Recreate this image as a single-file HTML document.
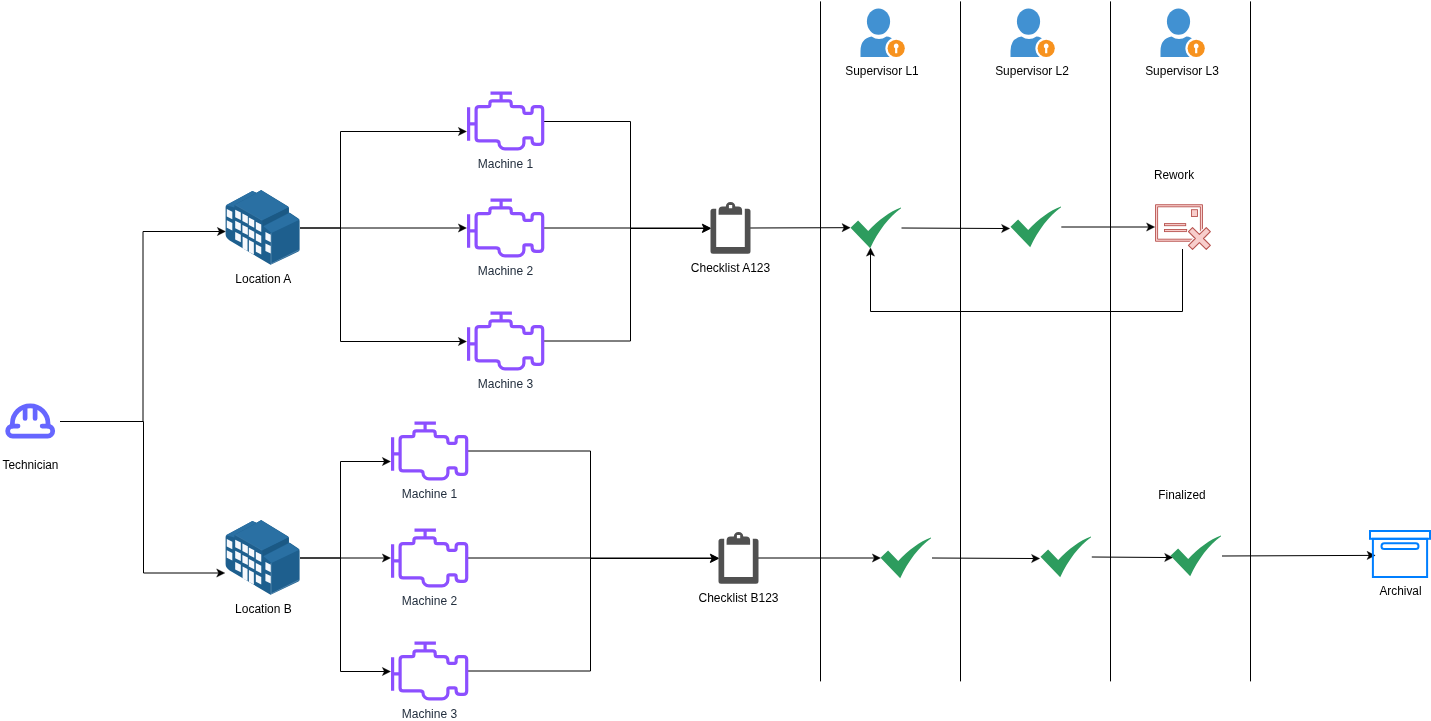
<!DOCTYPE html>
<html>
<head>
<meta charset="utf-8">
<title>Checklist workflow</title>
<style>
html,body{margin:0;padding:0;background:#fff;}
body{width:1431px;height:721px;overflow:hidden;}
svg{display:block;will-change:transform;}
svg text{font-family:"Liberation Sans",Helvetica,Arial,sans-serif;font-size:12px;}
</style>
</head>
<body>
<svg width="1431" height="721" viewBox="0 0 1431 721">
<rect width="1431" height="721" fill="#fff"/>
<defs>
<g id="hat" fill="none" stroke="#6666ff" stroke-width="4.800" stroke-linecap="round" stroke-linejoin="round">
<path d="M 18 426.100 H 12.700 a 5 5 0 0 0 0 10 H 47.700 a 5 5 0 0 0 0 -10 H 42.200"/>
<path d="M 12.400 426 V 423.500 A 17.800 17.700 0 0 1 48 423.500 V 426"/>
<path d="M 25.100 408 V 418.500 M 35.100 408 V 418.500" stroke-width="4.700"/>
</g>
<g id="engine" fill="none" stroke="#8c4fff" stroke-width="3.200" stroke-linejoin="round">
<path d="M 2.100 16.300 V 49.800 M 2 32.800 H 9.600" stroke-linejoin="miter"/>
<path d="M 24 2.100 H 45.400 M 34.600 2 V 9.900"/>
<path d="M 12.600 15.700 H 21.400 Q 23.400 15.700 23.400 13.700 V 12.400 Q 23.400 9.900 25.900 9.900 H 42.200 Q 44.700 9.900 44.700 12.400 V 13.700 Q 44.700 15.700 46.700 15.700 H 53.400 Q 57.400 15.700 57.400 19.700 V 20.800 Q 57.400 22.300 58.900 22.300 H 64.100 Q 65.600 22.300 65.600 20.800 V 18.700 Q 65.600 15.700 68.600 15.700 H 73.200 Q 76.200 15.700 76.200 18.700 V 49.900 Q 76.200 53.400 72.700 53.400 H 69.600 Q 65.600 53.400 65.600 49.400 V 48.300 Q 65.600 46.800 64.100 46.800 H 58.900 Q 57.400 46.800 57.400 48.300 V 51.900 A 6 6 0 0 1 51.400 57.900 H 38.500 A 6 6 0 0 1 32.500 51.900 Q 32.500 49.900 29.500 49.900 H 12.600 Q 9.600 49.900 9.600 46.900 V 18.700 Q 9.600 15.700 12.600 15.700 Z"/>
</g>
<g id="bldg"><g transform="scale(0.988 1)">
<path d="M 0.3 17 Q 0.3 15.6 1.5 15 L 27.4 0.9 L 31.5 2.7 L 36.3 0 L 63.3 16.2 Q 64.3 16.8 64.3 18 V 22.4 L 65.7 23 L 74 28.6 Q 75.2 29.6 75.2 31 V 59.5 Q 75.2 61 74 61.6 L 45.8 74.8 L 4.4 50.4 Q 0.3 48 0.3 44 Z" fill="#1e5f8e"/>
<path d="M 9.7 14.8 L 36.3 0.3 L 64.3 17.2 L 37.4 30.4 Z" fill="#2a70a3"/>
<path d="M 0.5 15.3 L 27.4 0.9 L 31.5 3 L 9.5 14.8 L 9.1 17.5 Z" fill="#2a70a3"/>
<path d="M 37.4 30.6 L 64.3 17.4 L 64.3 22.6 L 38.2 35.9 Z" fill="#1b5985"/>
<path d="M 38.6 36.3 L 64.6 23 L 75 29.8 L 46.8 42.9 Z" fill="#2a70a3"/>
<path d="M 46.3 43 V 73.800 L 74.500 60" stroke="#7fa8c8" stroke-width="0.500" fill="none"/>
<path d="M 9.7 14.8 L 37.4 30.4" stroke="#5b8fb5" stroke-width="0.3" fill="none"/>
<g fill="#f6f8fc">
<path d="M 1.50 18.90 L 7.10 21.64 L 7.10 29.14 L 1.50 26.40 Z"/>
<path d="M 1.50 30.20 L 7.10 32.94 L 7.10 40.44 L 1.50 37.70 Z"/>
<path d="M 10.00 19.80 L 15.70 22.59 L 15.70 30.09 L 10.00 27.30 Z"/>
<path d="M 10.00 30.80 L 15.70 33.59 L 15.70 41.09 L 10.00 38.30 Z"/>
<path d="M 10.00 42.00 L 15.70 44.79 L 15.70 52.29 L 10.00 49.50 Z"/>
<path d="M 17.30 23.60 L 22.80 26.30 L 22.80 33.80 L 17.30 31.10 Z"/>
<path d="M 17.30 34.90 L 22.80 37.59 L 22.80 45.09 L 17.30 42.40 Z"/>
<path d="M 23.80 27.50 L 29.30 30.20 L 29.30 37.70 L 23.80 35.00 Z"/>
<path d="M 23.80 39.00 L 29.30 41.70 L 29.30 49.20 L 23.80 46.50 Z"/>
<path d="M 30.90 31.80 L 36.40 34.49 L 36.40 41.99 L 30.90 39.30 Z"/>
<path d="M 30.90 43.10 L 36.40 45.80 L 36.40 53.30 L 30.90 50.60 Z"/>
<path d="M 30.90 54.30 L 36.40 56.99 L 36.40 64.50 L 30.90 61.80 Z"/>
<path d="M 40.60 42.00 L 46.00 44.65 L 46.00 52.15 L 40.60 49.50 Z"/>
<path d="M 40.60 53.40 L 46.00 56.05 L 46.00 63.55 L 40.60 60.90 Z"/>
<path d="M 17.50 46.60 L 22.50 49.05 L 22.50 61.05 L 17.50 58.60 Z"/>
<path d="M 23.90 50.10 L 28.90 52.55 L 28.90 64.55 L 23.90 62.10 Z"/>
</g>
</g>
</g>
<g id="clip" fill="#505050">
<path d="M 2.500 6.700 H 5.700 V 45.100 H 34.300 V 6.700 H 37.500 Q 40 6.700 40 9.200 V 49.200 Q 40 51.700 37.500 51.700 H 2.500 Q 0 51.700 0 49.200 V 9.200 Q 0 6.700 2.500 6.700 Z"/>
<path fill-rule="evenodd" d="M 8.100 12.800 V 8.500 Q 8.100 4.500 12.100 4.500 H 15.300 Q 15.800 0 20.050 0 Q 24.300 0 24.800 4.500 H 27.600 Q 31.600 4.500 31.600 8.500 V 12.800 Z M 18.400 3.100 H 21.700 V 6.300 H 18.400 Z"/>
</g>
<g id="sup">
<ellipse cx="18" cy="13.600" rx="11.600" ry="13.200" fill="#4191d2"/>
<path d="M 0 49 V 43 Q 0 30.500 11 28.500 Q 18.500 33.500 26 28.500 Q 31 29 31.500 31 V 49 Z" fill="#4191d2"/>
<circle cx="35.700" cy="40.300" r="10.800" fill="#fff"/>
<circle cx="35.700" cy="40.300" r="8.600" fill="#f7921e"/>
<path d="M 35.700 35.500 a 2.500 2.500 0 0 1 1.100 4.700 V 45.300 H 34.600 V 40.200 a 2.500 2.500 0 0 1 1.100 -4.700 Z" fill="#fff"/>
</g>
<g id="chk">
<path d="M 0 20.300 L 7.600 13 L 17.700 23.500 C 28 12.500 39.500 4 50.400 0 L 50.600 0.700 C 38.500 9.500 27.500 23.500 19.700 40.800 Z" fill="#2d9c5e"/>
</g>
<g id="rework" stroke="#b85450" stroke-width="0.900" fill="#f8cecc">
<path fill-rule="evenodd" d="M 0.500 0.700 H 47.500 V 37.300 H 0.500 Z M 2.600 2.800 V 35.200 H 45.400 V 2.800 Z"/>
<rect x="36.500" y="5.700" width="6" height="6.800"/>
<rect x="9.500" y="19.600" width="21.200" height="2.100"/>
<rect x="9.500" y="25.500" width="22.200" height="2.100"/>
<path d="M 51.26 23.54 L 55.36 27.64 L 48.50 34.50 L 55.36 41.36 L 51.26 45.46 L 44.40 38.60 L 37.54 45.46 L 33.44 41.36 L 40.30 34.50 L 33.44 27.64 L 37.54 23.54 L 44.40 30.40 Z" stroke="#fff" stroke-width="3.200" stroke-linejoin="round"/>
<path d="M 51.26 23.54 L 55.36 27.64 L 48.50 34.50 L 55.36 41.36 L 51.26 45.46 L 44.40 38.60 L 37.54 45.46 L 33.44 41.36 L 40.30 34.50 L 33.44 27.64 L 37.54 23.54 L 44.40 30.40 Z" stroke-linejoin="round" stroke-width="1.100"/>
</g>
<g id="arch" fill="none" stroke="#007fff" stroke-width="2">
<rect x="1" y="1" width="60" height="7.800"/>
<rect x="3.900" y="8.800" width="54.200" height="38.200"/>
<rect x="12.500" y="13.300" width="37" height="5.700" rx="2.850"/>
</g>
</defs>

<path d="M 820.5 1.4 L 820.5 681.4" fill="none" stroke="#000"/>
<path d="M 960.5 1.4 L 960.5 681.4" fill="none" stroke="#000"/>
<path d="M 1110.5 1.4 L 1110.5 681.4" fill="none" stroke="#000"/>
<path d="M 1250.5 1.4 L 1250.5 681.4" fill="none" stroke="#000"/>
<path d="M 60 421.5 L 143 421.5 L 143 231.5 L 219.6 231.5" fill="none" stroke="#000" stroke-miterlimit="10"/><path d="M 225.45 231.50 L 217.35 235.60 L 219.35 231.50 L 217.35 227.40 Z" fill="#000" stroke="#000" stroke-width="0.4" stroke-miterlimit="10"/>
<path d="M 60 421.5 L 143.5 421.5 L 143.5 573 L 218.9 573" fill="none" stroke="#000" stroke-miterlimit="10"/><path d="M 224.75 573.00 L 216.65 577.10 L 218.65 573.00 L 216.65 568.90 Z" fill="#000" stroke="#000" stroke-width="0.4" stroke-miterlimit="10"/>
<path d="M 300 228 L 340.5 228 L 340.5 131.5 L 460.6 131.5" fill="none" stroke="#000" stroke-miterlimit="10"/><path d="M 466.45 131.50 L 458.35 135.60 L 460.35 131.50 L 458.35 127.40 Z" fill="#000" stroke="#000" stroke-width="0.4" stroke-miterlimit="10"/>
<path d="M 300 228 L 460.6 228" fill="none" stroke="#000" stroke-miterlimit="10"/><path d="M 466.45 228.00 L 458.35 232.10 L 460.35 228.00 L 458.35 223.90 Z" fill="#000" stroke="#000" stroke-width="0.4" stroke-miterlimit="10"/>
<path d="M 340.5 228 L 340.5 341.5 L 460.6 341.5" fill="none" stroke="#000" stroke-miterlimit="10"/><path d="M 466.45 341.50 L 458.35 345.60 L 460.35 341.50 L 458.35 337.40 Z" fill="#000" stroke="#000" stroke-width="0.4" stroke-miterlimit="10"/>
<path d="M 544 121.5 L 630.5 121.5 L 630.5 228.5 L 704.6 228.5" fill="none" stroke="#000" stroke-miterlimit="10"/><path d="M 710.45 228.50 L 702.35 232.60 L 704.35 228.50 L 702.35 224.40 Z" fill="#000" stroke="#000" stroke-width="0.4" stroke-miterlimit="10"/>
<path d="M 544 228 L 704.6 228" fill="none" stroke="#000" stroke-miterlimit="10"/><path d="M 710.45 228.00 L 702.35 232.10 L 704.35 228.00 L 702.35 223.90 Z" fill="#000" stroke="#000" stroke-width="0.4" stroke-miterlimit="10"/>
<path d="M 544 341 L 630.5 341 L 630.5 228.5 L 704.6 228.5" fill="none" stroke="#000" stroke-miterlimit="10"/><path d="M 710.45 228.50 L 702.35 232.60 L 704.35 228.50 L 702.35 224.40 Z" fill="#000" stroke="#000" stroke-width="0.4" stroke-miterlimit="10"/>
<path d="M 750 228 L 844.3 227.7" fill="none" stroke="#000" stroke-miterlimit="10"/><path d="M 850.15 227.70 L 842.05 231.80 L 844.05 227.70 L 842.05 223.60 Z" fill="#000" stroke="#000" stroke-width="0.4" stroke-miterlimit="10"/>
<path d="M 901.5 228 L 1003.8 228.5" fill="none" stroke="#000" stroke-miterlimit="10"/><path d="M 1009.65 228.50 L 1001.55 232.60 L 1003.55 228.50 L 1001.55 224.40 Z" fill="#000" stroke="#000" stroke-width="0.4" stroke-miterlimit="10"/>
<path d="M 1061.3 227 L 1148.8 227" fill="none" stroke="#000" stroke-miterlimit="10"/><path d="M 1154.65 227.00 L 1146.55 231.10 L 1148.55 227.00 L 1146.55 222.90 Z" fill="#000" stroke="#000" stroke-width="0.4" stroke-miterlimit="10"/>
<path d="M 1182.5 249 L 1182.5 311.5 L 870.5 311.5 L 870.5 253.9" fill="none" stroke="#000" stroke-miterlimit="10"/><path d="M 870.50 248.05 L 874.60 256.15 L 870.50 254.15 L 866.40 256.15 Z" fill="#000" stroke="#000" stroke-width="0.4" stroke-miterlimit="10"/>
<path d="M 300 558 L 340.5 558 L 340.5 461.5 L 384.6 461.5" fill="none" stroke="#000" stroke-miterlimit="10"/><path d="M 390.45 461.50 L 382.35 465.60 L 384.35 461.50 L 382.35 457.40 Z" fill="#000" stroke="#000" stroke-width="0.4" stroke-miterlimit="10"/>
<path d="M 300 558 L 384.6 558" fill="none" stroke="#000" stroke-miterlimit="10"/><path d="M 390.45 558.00 L 382.35 562.10 L 384.35 558.00 L 382.35 553.90 Z" fill="#000" stroke="#000" stroke-width="0.4" stroke-miterlimit="10"/>
<path d="M 340.5 558 L 340.5 671.5 L 384.6 671.5" fill="none" stroke="#000" stroke-miterlimit="10"/><path d="M 390.45 671.50 L 382.35 675.60 L 384.35 671.50 L 382.35 667.40 Z" fill="#000" stroke="#000" stroke-width="0.4" stroke-miterlimit="10"/>
<path d="M 468 451 L 590.5 451 L 590.5 558.5 L 712.6 558.5" fill="none" stroke="#000" stroke-miterlimit="10"/><path d="M 718.45 558.50 L 710.35 562.60 L 712.35 558.50 L 710.35 554.40 Z" fill="#000" stroke="#000" stroke-width="0.4" stroke-miterlimit="10"/>
<path d="M 468 558 L 712.6 558" fill="none" stroke="#000" stroke-miterlimit="10"/><path d="M 718.45 558.00 L 710.35 562.10 L 712.35 558.00 L 710.35 553.90 Z" fill="#000" stroke="#000" stroke-width="0.4" stroke-miterlimit="10"/>
<path d="M 468 671 L 590.5 671 L 590.5 558.5 L 712.6 558.5" fill="none" stroke="#000" stroke-miterlimit="10"/><path d="M 718.45 558.50 L 710.35 562.60 L 712.35 558.50 L 710.35 554.40 Z" fill="#000" stroke="#000" stroke-width="0.4" stroke-miterlimit="10"/>
<path d="M 758 558 L 874.6 558" fill="none" stroke="#000" stroke-miterlimit="10"/><path d="M 880.45 558.00 L 872.35 562.10 L 874.35 558.00 L 872.35 553.90 Z" fill="#000" stroke="#000" stroke-width="0.4" stroke-miterlimit="10"/>
<path d="M 932 558 L 1033.8 558.5" fill="none" stroke="#000" stroke-miterlimit="10"/><path d="M 1039.65 558.50 L 1031.55 562.60 L 1033.55 558.50 L 1031.55 554.40 Z" fill="#000" stroke="#000" stroke-width="0.4" stroke-miterlimit="10"/>
<path d="M 1091.8 557 L 1166.9 557.5" fill="none" stroke="#000" stroke-miterlimit="10"/><path d="M 1172.75 557.50 L 1164.65 561.60 L 1166.65 557.50 L 1164.65 553.40 Z" fill="#000" stroke="#000" stroke-width="0.4" stroke-miterlimit="10"/>
<path d="M 1222 556 L 1369.3 555.4" fill="none" stroke="#000" stroke-miterlimit="10"/><path d="M 1375.15 555.40 L 1367.05 559.50 L 1369.05 555.40 L 1367.05 551.30 Z" fill="#000" stroke="#000" stroke-width="0.4" stroke-miterlimit="10"/>
<use href="#hat" x="0" y="0"/>
<use href="#bldg" x="225.3" y="190"/>
<use href="#bldg" x="225.3" y="520"/>
<use href="#engine" x="466.5" y="91"/>
<use href="#engine" x="466.5" y="198"/>
<use href="#engine" x="466.5" y="311"/>
<use href="#engine" x="390.5" y="421"/>
<use href="#engine" x="390.5" y="528"/>
<use href="#engine" x="390.5" y="641"/>
<use href="#clip" x="710.5" y="202"/>
<use href="#clip" x="718.5" y="532"/>
<use href="#sup" x="860.5" y="8"/>
<use href="#sup" x="1010.5" y="8"/>
<use href="#sup" x="1160.5" y="8"/>
<use href="#chk" x="850.5" y="207.5"/>
<use href="#chk" x="1010.5" y="206.5"/>
<use href="#chk" x="880.5" y="537.5"/>
<use href="#chk" x="1040.5" y="536.5"/>
<use href="#chk" x="1170.5" y="535.5"/>
<use href="#rework" x="1155" y="204"/>
<use href="#arch" x="1369" y="530"/>
<g id="labels">
<text transform="translate(30.5 469) scale(0.985 1)" fill="#000" text-anchor="middle">Technician</text>
<text transform="translate(263.3 283) scale(1 1)" fill="#000" text-anchor="middle">Location A</text>
<text transform="translate(263.4 613) scale(1 1)" fill="#000" text-anchor="middle">Location B</text>
<text transform="translate(505.4 168) scale(1 1)" fill="#232F3E" text-anchor="middle">Machine 1</text>
<text transform="translate(505.4 275) scale(1 1)" fill="#232F3E" text-anchor="middle">Machine 2</text>
<text transform="translate(505.4 388) scale(1 1)" fill="#232F3E" text-anchor="middle">Machine 3</text>
<text transform="translate(429.4 498) scale(1 1)" fill="#232F3E" text-anchor="middle">Machine 1</text>
<text transform="translate(429.4 605) scale(1 1)" fill="#232F3E" text-anchor="middle">Machine 2</text>
<text transform="translate(429.4 718) scale(1 1)" fill="#232F3E" text-anchor="middle">Machine 3</text>
<text transform="translate(730.5 272) scale(1 1)" fill="#000" text-anchor="middle">Checklist A123</text>
<text transform="translate(738.5 602) scale(1 1)" fill="#000" text-anchor="middle">Checklist B123</text>
<text transform="translate(882 75) scale(0.992 1)" fill="#000" text-anchor="middle">Supervisor L1</text>
<text transform="translate(1032 75) scale(0.997 1)" fill="#000" text-anchor="middle">Supervisor L2</text>
<text transform="translate(1182 75) scale(0.997 1)" fill="#000" text-anchor="middle">Supervisor L3</text>
<text transform="translate(1174 179) scale(0.985 1)" fill="#000" text-anchor="middle">Rework</text>
<text transform="translate(1182 499) scale(0.985 1)" fill="#000" text-anchor="middle">Finalized</text>
<text transform="translate(1400.5 595) scale(0.985 1)" fill="#000" text-anchor="middle">Archival</text>
</g>
</svg>
</body>
</html>
